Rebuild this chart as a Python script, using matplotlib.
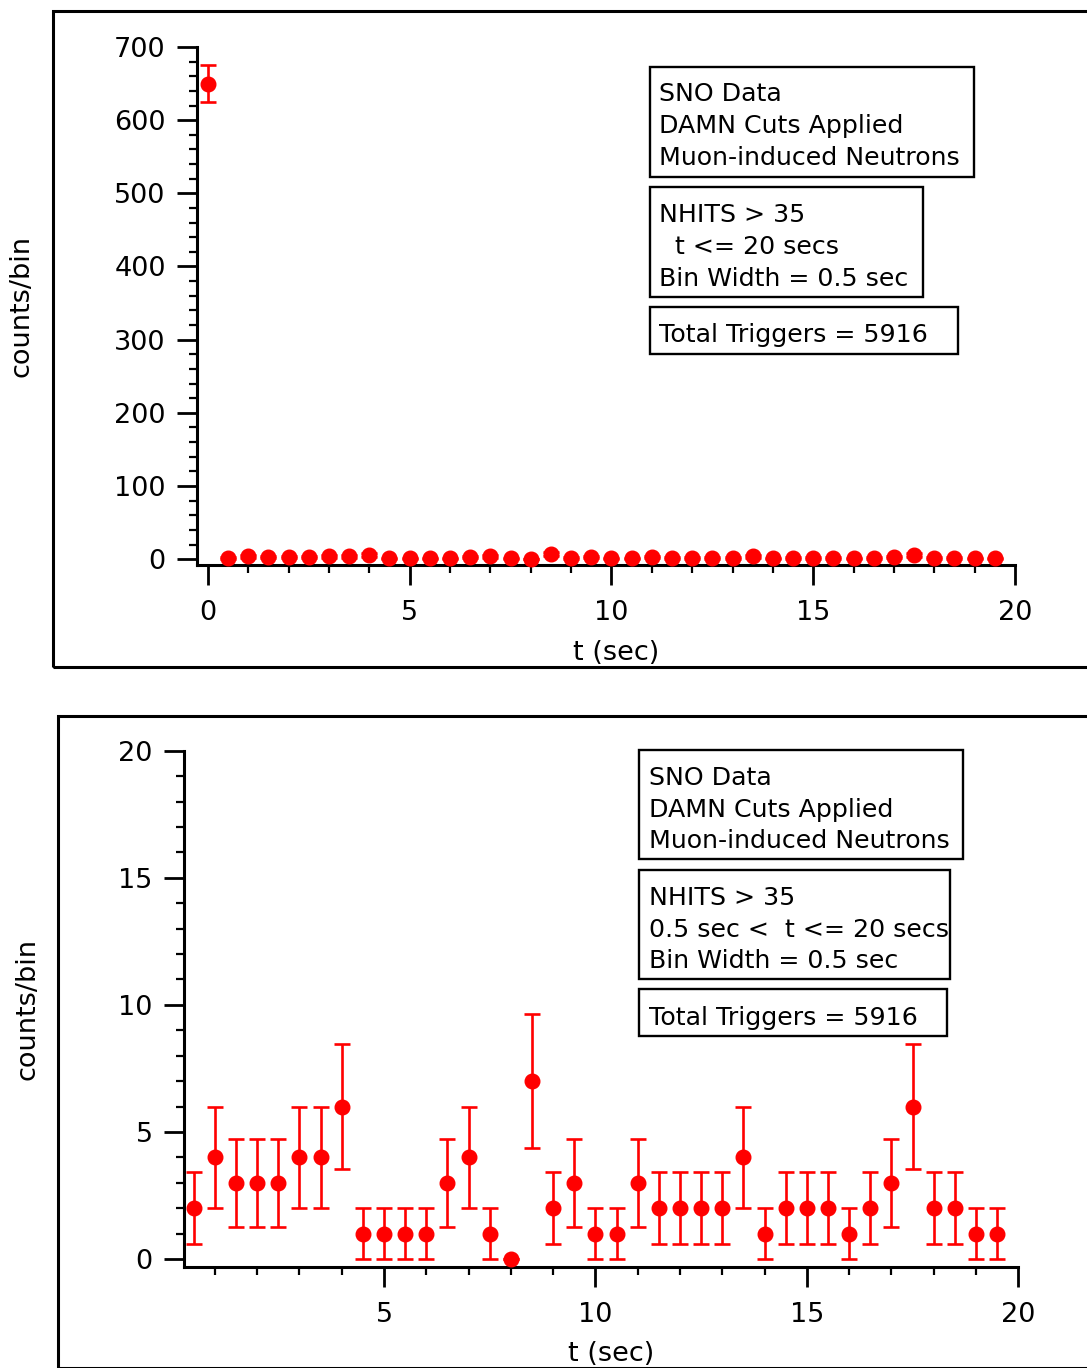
import numpy as np
import matplotlib
matplotlib.use("Agg")
import matplotlib.pyplot as plt
from matplotlib.patches import Rectangle
from matplotlib.ticker import MultipleLocator

# Muon-induced neutron candidates: counts per 0.5 s bin after a muon
t_bins = [0.0, 0.5, 1.0, 1.5, 2.0, 2.5, 3.0, 3.5, 4.0, 4.5,
          5.0, 5.5, 6.0, 6.5, 7.0, 7.5, 8.0, 8.5, 9.0, 9.5,
          10.0, 10.5, 11.0, 11.5, 12.0, 12.5, 13.0, 13.5, 14.0, 14.5,
          15.0, 15.5, 16.0, 16.5, 17.0, 17.5, 18.0, 18.5, 19.0, 19.5]
counts = [650, 2, 4, 3, 3, 3, 4, 4, 6, 1,
          1, 1, 1, 3, 4, 1, 0, 7, 2, 3,
          1, 1, 3, 2, 2, 2, 2, 4, 1, 2,
          2, 2, 1, 2, 3, 6, 2, 2, 1, 1]

info_top = ["SNO Data", "DAMN Cuts Applied", "Muon-induced Neutrons"]
cuts_full = ["NHITS > 35", "  t <= 20 secs", "Bin Width = 0.5 sec"]
cuts_late = ["NHITS > 35", "0.5 sec <  t <= 20 secs", "Bin Width = 0.5 sec"]
trigger_text = "Total Triggers = 5916"

W, H = 1087, 1368
plt.rcParams["font.family"] = ["DejaVu Sans"]

TICK_SIZE = 19.5
LABEL_SIZE = 19.5
BOX_SIZE = 18.2

fig = plt.figure(figsize=(W / 100, H / 100), dpi=100)


def fx(x):
    return x / W


def fy(y):
    return 1 - y / H


def axes_rect(left, top, right, bottom):
    return [fx(left), fy(bottom), (right - left) / W, (bottom - top) / H]


def style_axes(ax, xmaj, xmin, ymaj, ymin):
    for side in ("top", "right"):
        ax.spines[side].set_visible(False)
    for side in ("left", "bottom"):
        ax.spines[side].set_linewidth(2.2)
    ax.xaxis.set_major_locator(MultipleLocator(xmaj))
    ax.xaxis.set_minor_locator(MultipleLocator(xmin))
    ax.yaxis.set_major_locator(MultipleLocator(ymaj))
    ax.yaxis.set_minor_locator(MultipleLocator(ymin))
    ax.tick_params(which="major", direction="out", length=14.5, width=2.0,
                   labelsize=TICK_SIZE, pad=8)
    ax.tick_params(which="minor", direction="out", length=5.8, width=1.6)
    ax.tick_params(axis="x", which="major", pad=11)


def draw_errors(ax, t, n):
    t = np.asarray(t, dtype=float)
    n = np.asarray(n, dtype=float)
    ax.errorbar(t, n, yerr=np.sqrt(n), fmt="o", color="#ff0000",
                markersize=10.5, elinewidth=1.9, capsize=6, capthick=1.9,
                clip_on=False, zorder=3)


def text_box(box, left_text, lines, baselines, size=BOX_SIZE):
    l, t, r, b = box
    fig.patches.append(Rectangle((fx(l), fy(b)), (r - l) / W, (b - t) / H,
                                 transform=fig.transFigure, fill=False,
                                 edgecolor="black", linewidth=1.7))
    for line, y in zip(lines, baselines):
        fig.text(fx(left_text), fy(y), line, fontsize=size, va="baseline",
                 ha="left", color="black")


# outer panel frames
fig.patches.append(Rectangle((fx(53), fy(667)), (1200 - 53) / W, (667 - 11) / H,
                             transform=fig.transFigure, fill=False,
                             edgecolor="black", linewidth=2.2))
fig.patches.append(Rectangle((fx(58), fy(1367.5)), (1200 - 58) / W, (1367.5 - 715.5) / H,
                             transform=fig.transFigure, fill=False,
                             edgecolor="black", linewidth=2.2))

# --- full range, including the t = 0 bin ---
ax1 = fig.add_axes(axes_rect(197, 47, 1015, 565))
draw_errors(ax1, t_bins, counts)
ax1.set_xlim(-0.27, 20)
ax1.set_ylim(-8, 700)
style_axes(ax1, 5, 1, 100, 20)
ax1.set_xlabel("t (sec)", fontsize=LABEL_SIZE)
ax1.xaxis.set_label_coords(0.512, -0.145)
ax1.set_ylabel("counts/bin", fontsize=LABEL_SIZE, va="center", ha="center")
ax1.yaxis.set_label_coords(-0.214, 0.5)

text_box((650, 67.3, 974.3, 176.5), 659.3, info_top, [100.7, 133.0, 165.2])
text_box((650, 186.7, 923.3, 296.7), 659.3, cuts_full, [222.3, 254.3, 286.3])
text_box((650, 307.3, 957.7, 354), 659.3, [trigger_text], [341.7])

# --- later bins only ---
ax2 = fig.add_axes(axes_rect(184, 750.7, 1018.3, 1266.7))
draw_errors(ax2, t_bins[1:], counts[1:])
ax2.set_xlim(0.27, 20)
ax2.set_ylim(-0.3, 20)
style_axes(ax2, 5, 1, 5, 1)
ax2.set_xlabel("t (sec)", fontsize=LABEL_SIZE)
ax2.xaxis.set_label_coords(0.512, -0.144)
ax2.set_ylabel("counts/bin", fontsize=LABEL_SIZE, va="center", ha="center")
ax2.yaxis.set_label_coords(-0.187, 0.5)

text_box((639.3, 750, 962.7, 859), 649, info_top, [785, 816.7, 848.3])
text_box((639.3, 870, 950, 979.3), 649, cuts_late, [905, 936.7, 968.3])
text_box((639.3, 989.3, 946.7, 1035.7), 649, [trigger_text], [1025])

fig.savefig("out.png", dpi=100)
